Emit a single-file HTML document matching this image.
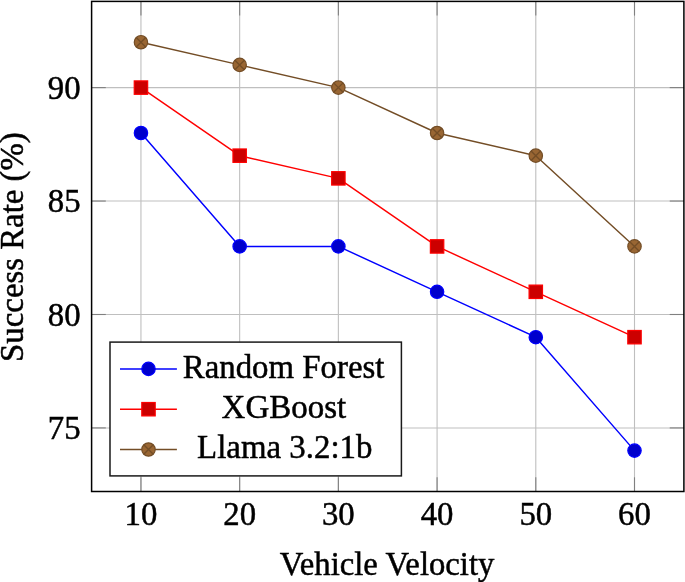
<!DOCTYPE html>
<html><head><meta charset="utf-8"><style>
html,body{margin:0;padding:0;background:#fff;}
svg{display:block;will-change:transform;}
text{font-family:"Liberation Serif",serif;font-size:34.0px;fill:#000;stroke:#000;stroke-width:0.5px;}
text.d{font-size:34.0px;}
</style></head><body>
<svg width="685" height="582" viewBox="0 0 685 582">
<line x1="140.95" y1="1.4" x2="140.95" y2="491.5" stroke="#bfbfbf" stroke-width="1.1"/>
<line x1="239.66" y1="1.4" x2="239.66" y2="491.5" stroke="#bfbfbf" stroke-width="1.1"/>
<line x1="338.37" y1="1.4" x2="338.37" y2="491.5" stroke="#bfbfbf" stroke-width="1.1"/>
<line x1="437.08" y1="1.4" x2="437.08" y2="491.5" stroke="#bfbfbf" stroke-width="1.1"/>
<line x1="535.79" y1="1.4" x2="535.79" y2="491.5" stroke="#bfbfbf" stroke-width="1.1"/>
<line x1="634.50" y1="1.4" x2="634.50" y2="491.5" stroke="#bfbfbf" stroke-width="1.1"/>
<line x1="91.6" y1="427.93" x2="683.9" y2="427.93" stroke="#bfbfbf" stroke-width="1.1"/>
<line x1="91.6" y1="314.49" x2="683.9" y2="314.49" stroke="#bfbfbf" stroke-width="1.1"/>
<line x1="91.6" y1="201.04" x2="683.9" y2="201.04" stroke="#bfbfbf" stroke-width="1.1"/>
<line x1="91.6" y1="87.60" x2="683.9" y2="87.60" stroke="#bfbfbf" stroke-width="1.1"/>
<line x1="140.95" y1="1.4" x2="140.95" y2="15.6" stroke="#808080" stroke-width="1.1"/>
<line x1="140.95" y1="491.5" x2="140.95" y2="477.3" stroke="#808080" stroke-width="1.1"/>
<line x1="239.66" y1="1.4" x2="239.66" y2="15.6" stroke="#808080" stroke-width="1.1"/>
<line x1="239.66" y1="491.5" x2="239.66" y2="477.3" stroke="#808080" stroke-width="1.1"/>
<line x1="338.37" y1="1.4" x2="338.37" y2="15.6" stroke="#808080" stroke-width="1.1"/>
<line x1="338.37" y1="491.5" x2="338.37" y2="477.3" stroke="#808080" stroke-width="1.1"/>
<line x1="437.08" y1="1.4" x2="437.08" y2="15.6" stroke="#808080" stroke-width="1.1"/>
<line x1="437.08" y1="491.5" x2="437.08" y2="477.3" stroke="#808080" stroke-width="1.1"/>
<line x1="535.79" y1="1.4" x2="535.79" y2="15.6" stroke="#808080" stroke-width="1.1"/>
<line x1="535.79" y1="491.5" x2="535.79" y2="477.3" stroke="#808080" stroke-width="1.1"/>
<line x1="634.50" y1="1.4" x2="634.50" y2="15.6" stroke="#808080" stroke-width="1.1"/>
<line x1="634.50" y1="491.5" x2="634.50" y2="477.3" stroke="#808080" stroke-width="1.1"/>
<line x1="91.6" y1="427.93" x2="105.8" y2="427.93" stroke="#808080" stroke-width="1.1"/>
<line x1="683.9" y1="427.93" x2="669.7" y2="427.93" stroke="#808080" stroke-width="1.1"/>
<line x1="91.6" y1="314.49" x2="105.8" y2="314.49" stroke="#808080" stroke-width="1.1"/>
<line x1="683.9" y1="314.49" x2="669.7" y2="314.49" stroke="#808080" stroke-width="1.1"/>
<line x1="91.6" y1="201.04" x2="105.8" y2="201.04" stroke="#808080" stroke-width="1.1"/>
<line x1="683.9" y1="201.04" x2="669.7" y2="201.04" stroke="#808080" stroke-width="1.1"/>
<line x1="91.6" y1="87.60" x2="105.8" y2="87.60" stroke="#808080" stroke-width="1.1"/>
<line x1="683.9" y1="87.60" x2="669.7" y2="87.60" stroke="#808080" stroke-width="1.1"/>
<polyline points="140.95,132.98 239.66,246.42 338.37,246.42 437.08,291.80 535.79,337.18 634.50,450.62" fill="none" stroke="#0000ff" stroke-width="1.45" stroke-linejoin="round"/>
<polyline points="140.95,87.60 239.66,155.67 338.37,178.36 437.08,246.42 535.79,291.80 634.50,337.18" fill="none" stroke="#ff0000" stroke-width="1.45" stroke-linejoin="round"/>
<polyline points="140.95,42.22 239.66,64.91 338.37,87.60 437.08,132.98 535.79,155.67 634.50,246.42" fill="none" stroke="#734d26" stroke-width="1.45" stroke-linejoin="round"/>
<circle cx="140.95" cy="132.98" r="6.7" fill="#0000cc" stroke="#0000ff" stroke-width="1.2"/>
<circle cx="239.66" cy="246.42" r="6.7" fill="#0000cc" stroke="#0000ff" stroke-width="1.2"/>
<circle cx="338.37" cy="246.42" r="6.7" fill="#0000cc" stroke="#0000ff" stroke-width="1.2"/>
<circle cx="437.08" cy="291.80" r="6.7" fill="#0000cc" stroke="#0000ff" stroke-width="1.2"/>
<circle cx="535.79" cy="337.18" r="6.7" fill="#0000cc" stroke="#0000ff" stroke-width="1.2"/>
<circle cx="634.50" cy="450.62" r="6.7" fill="#0000cc" stroke="#0000ff" stroke-width="1.2"/>
<rect x="134.25" y="80.90" width="13.4" height="13.4" fill="#cc0000" stroke="#ff0000" stroke-width="1.2"/>
<rect x="232.96" y="148.97" width="13.4" height="13.4" fill="#cc0000" stroke="#ff0000" stroke-width="1.2"/>
<rect x="331.67" y="171.66" width="13.4" height="13.4" fill="#cc0000" stroke="#ff0000" stroke-width="1.2"/>
<rect x="430.38" y="239.72" width="13.4" height="13.4" fill="#cc0000" stroke="#ff0000" stroke-width="1.2"/>
<rect x="529.09" y="285.10" width="13.4" height="13.4" fill="#cc0000" stroke="#ff0000" stroke-width="1.2"/>
<rect x="627.80" y="330.48" width="13.4" height="13.4" fill="#cc0000" stroke="#ff0000" stroke-width="1.2"/>
<circle cx="140.95" cy="42.22" r="6.7" fill="#996633" stroke="#734d26" stroke-width="1.2"/><path d="M136.21,37.48L145.69,46.96M136.21,46.96L145.69,37.48" stroke="#734d26" stroke-width="1.35"/>
<circle cx="239.66" cy="64.91" r="6.7" fill="#996633" stroke="#734d26" stroke-width="1.2"/><path d="M234.92,60.17L244.40,69.65M234.92,69.65L244.40,60.17" stroke="#734d26" stroke-width="1.35"/>
<circle cx="338.37" cy="87.60" r="6.7" fill="#996633" stroke="#734d26" stroke-width="1.2"/><path d="M333.63,82.86L343.11,92.34M333.63,92.34L343.11,82.86" stroke="#734d26" stroke-width="1.35"/>
<circle cx="437.08" cy="132.98" r="6.7" fill="#996633" stroke="#734d26" stroke-width="1.2"/><path d="M432.34,128.24L441.82,137.72M432.34,137.72L441.82,128.24" stroke="#734d26" stroke-width="1.35"/>
<circle cx="535.79" cy="155.67" r="6.7" fill="#996633" stroke="#734d26" stroke-width="1.2"/><path d="M531.05,150.93L540.53,160.40M531.05,160.40L540.53,150.93" stroke="#734d26" stroke-width="1.35"/>
<circle cx="634.50" cy="246.42" r="6.7" fill="#996633" stroke="#734d26" stroke-width="1.2"/><path d="M629.76,241.69L639.24,251.16M629.76,251.16L639.24,241.69" stroke="#734d26" stroke-width="1.35"/>
<rect x="91.6" y="1.4" width="592.3" height="490.1" fill="none" stroke="#000" stroke-width="1.5"/>
<rect x="110" y="342.1" width="291.4" height="133.8" fill="#fff" stroke="#1a1a1a" stroke-width="1.5"/>
<line x1="120.0" y1="368.9" x2="176.9" y2="368.9" stroke="#0000ff" stroke-width="1.45"/>
<line x1="120.0" y1="409.2" x2="176.9" y2="409.2" stroke="#ff0000" stroke-width="1.45"/>
<line x1="120.0" y1="449.5" x2="176.9" y2="449.5" stroke="#734d26" stroke-width="1.45"/>
<circle cx="148.50" cy="368.90" r="6.7" fill="#0000cc" stroke="#0000ff" stroke-width="1.2"/>
<rect x="141.80" y="402.50" width="13.4" height="13.4" fill="#cc0000" stroke="#ff0000" stroke-width="1.2"/>
<circle cx="148.50" cy="449.50" r="6.7" fill="#996633" stroke="#734d26" stroke-width="1.2"/><path d="M143.76,444.76L153.24,454.24M143.76,454.24L153.24,444.76" stroke="#734d26" stroke-width="1.35"/>
<text x="182.8" y="377.9" textLength="201.61" lengthAdjust="spacingAndGlyphs">Random Forest</text>
<text x="221.6" y="417.9" textLength="124.63" lengthAdjust="spacingAndGlyphs">XGBoost</text>
<text x="197.1" y="458.3" textLength="175.33" lengthAdjust="spacingAndGlyphs">Llama 3.2:1b</text>
<text x="279.8" y="575.0" textLength="214.54" lengthAdjust="spacingAndGlyphs">Vehicle Velocity</text>
<text transform="translate(22.5,361.9) rotate(-90)" x="0" y="0" textLength="229.61" lengthAdjust="spacingAndGlyphs">Success Rate (%)</text>
<text class="d" x="140.95" y="525.3" text-anchor="middle" textLength="32.8" lengthAdjust="spacingAndGlyphs">10</text>
<text class="d" x="239.66" y="525.3" text-anchor="middle" textLength="32.8" lengthAdjust="spacingAndGlyphs">20</text>
<text class="d" x="338.37" y="525.3" text-anchor="middle" textLength="32.8" lengthAdjust="spacingAndGlyphs">30</text>
<text class="d" x="437.08" y="525.3" text-anchor="middle" textLength="32.8" lengthAdjust="spacingAndGlyphs">40</text>
<text class="d" x="535.79" y="525.3" text-anchor="middle" textLength="32.8" lengthAdjust="spacingAndGlyphs">50</text>
<text class="d" x="634.50" y="525.3" text-anchor="middle" textLength="32.8" lengthAdjust="spacingAndGlyphs">60</text>
<text class="d" x="80.6" y="439.03" text-anchor="end" textLength="32.8" lengthAdjust="spacingAndGlyphs">75</text>
<text class="d" x="80.6" y="325.59" text-anchor="end" textLength="32.8" lengthAdjust="spacingAndGlyphs">80</text>
<text class="d" x="80.6" y="212.14" text-anchor="end" textLength="32.8" lengthAdjust="spacingAndGlyphs">85</text>
<text class="d" x="80.6" y="98.70" text-anchor="end" textLength="32.8" lengthAdjust="spacingAndGlyphs">90</text>
</svg>
</body></html>
